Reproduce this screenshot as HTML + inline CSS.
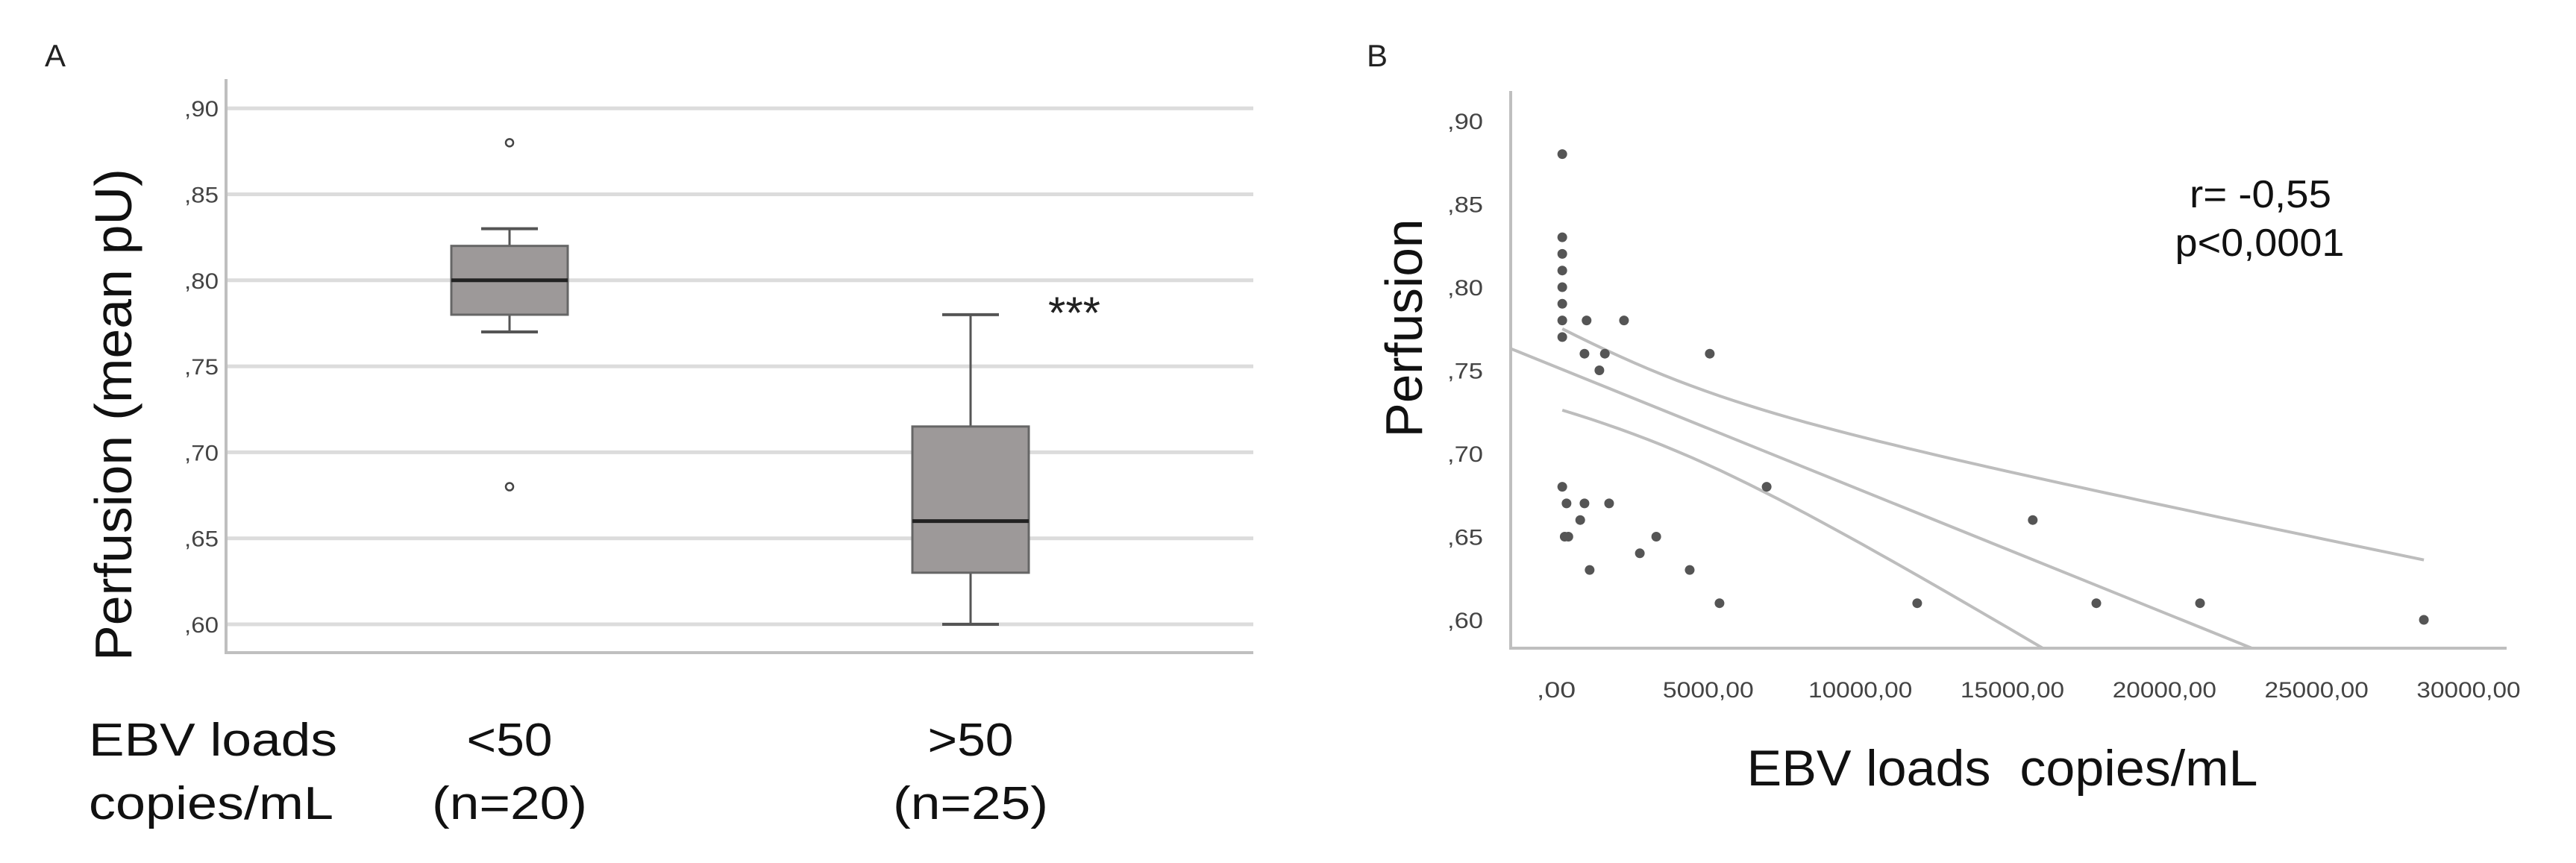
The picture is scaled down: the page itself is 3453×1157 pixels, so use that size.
<!DOCTYPE html>
<html><head><meta charset="utf-8"><style>
html,body{margin:0;padding:0;background:#fff;}
svg{display:block;font-family:"Liberation Sans",Arial,sans-serif;}
</style></head><body>
<svg id="fig" width="3453" height="1157" viewBox="0 0 3453 1157">
<defs><clipPath id="clipB"><rect x="2025" y="100" width="1380" height="769"/></clipPath></defs>
<text x="60" y="89" font-size="42" fill="#222">A</text>
<text x="1832" y="89" font-size="42" fill="#222">B</text>
<g id="panelA"></g>
<g id="panelB"></g>
</svg>
<script>
const NS="http://www.w3.org/2000/svg";
// Panel A data
const groupLabels=["<50",">50"];
const groupN=["(n=20)","(n=25)"];
const whiskerLow=[0.77,0.60];
const q1=[0.78,0.63];
const median=[0.80,0.66];
const q3=[0.82,0.715];
const whiskerHigh=[0.83,0.78];
const outliers=[[0.88,0.68],[]];
const yTicksA=[0.60,0.65,0.70,0.75,0.80,0.85,0.90];
const yTickLabelsA=[",60",",65",",70",",75",",80",",85",",90"];
// Panel B data
const ebv=[200,200,200,200,200,200,200,200,1000,2230,930,1600,1420,5050,200,340,930,1740,790,280,400,3290,2750,1100,4390,5370,6920,11870,15670,17760,21170,28530];
const perf=[0.88,0.83,0.82,0.81,0.80,0.79,0.78,0.77,0.78,0.78,0.76,0.76,0.75,0.76,0.68,0.67,0.67,0.67,0.66,0.65,0.65,0.65,0.64,0.63,0.63,0.61,0.68,0.61,0.66,0.61,0.61,0.60];
const xTicksB=[0,5000,10000,15000,20000,25000,30000];
const xTickLabelsB=[",00","5000,00","10000,00","15000,00","20000,00","25000,00","30000,00"];
const yTicksB=[0.60,0.65,0.70,0.75,0.80,0.85,0.90];
const yTickLabelsB=[",60",",65",",70",",75",",80",",85",",90"];
const fitCoef=[0.752,-7.39e-6];
const bandCoef=[0.00045,1.364e-11,3500];
const bandRange=[200,28530];

function el(tag,attrs,parent,text){const e=document.createElementNS(NS,tag);for(const k in attrs)e.setAttribute(k,attrs[k]);if(text!==undefined)e.textContent=text;parent.appendChild(e);return e;}

// ---- Panel A ----
const A=document.getElementById('panelA');
const yA=v=>837-(v-0.60)/0.05*115.3;
const xA=i=>[683,1301][i];
yTicksA.forEach((t,i)=>{
  const g=el('line',{x1:303,x2:1680,y1:yA(t),y2:yA(t),stroke:'#dcdcdc','stroke-width':5},A);
  
  const tx=el('text',{x:293,y:yA(t)+11,'font-size':30,'text-anchor':'end',fill:'#444',textLength:46,lengthAdjust:'spacingAndGlyphs'},A,yTickLabelsA[i]);
  
});
const axA=el('polyline',{points:'303,106 303,875 1680,875',fill:'none',stroke:'#bfbfbf','stroke-width':4},A);

groupLabels.forEach((g,i)=>{
  const cx=xA(i),hw=78,cw=38;
  const grp=el('g',{},A);
  
  el('line',{x1:cx,x2:cx,y1:yA(whiskerHigh[i]),y2:yA(q3[i]),stroke:'#555','stroke-width':3},grp);
  el('line',{x1:cx,x2:cx,y1:yA(q1[i]),y2:yA(whiskerLow[i]),stroke:'#555','stroke-width':3},grp);
  el('line',{x1:cx-cw,x2:cx+cw,y1:yA(whiskerHigh[i]),y2:yA(whiskerHigh[i]),stroke:'#555','stroke-width':4},grp);
  el('line',{x1:cx-cw,x2:cx+cw,y1:yA(whiskerLow[i]),y2:yA(whiskerLow[i]),stroke:'#555','stroke-width':4},grp);
  el('rect',{x:cx-hw,y:yA(q3[i]),width:2*hw,height:yA(q1[i])-yA(q3[i]),fill:'#9d9999',stroke:'#666','stroke-width':3},grp);
  el('line',{x1:cx-hw,x2:cx+hw,y1:yA(median[i]),y2:yA(median[i]),stroke:'#222','stroke-width':5},grp);
  outliers[i].forEach(o=>{const c=el('circle',{cx:cx,cy:yA(o),r:5,fill:'#fff',stroke:'#444','stroke-width':2.5},A);
    });
  const l1=el('text',{x:cx,y:1013,'font-size':62,'text-anchor':'middle',fill:'#111',textLength:115,lengthAdjust:'spacingAndGlyphs'},A,g);
  
  const l2=el('text',{x:cx,y:1098,'font-size':62,'text-anchor':'middle',fill:'#111',textLength:208,lengthAdjust:'spacingAndGlyphs'},A,groupN[i]);
  
});
const st=el('text',{x:1440,y:440,'font-size':60,'text-anchor':'middle',fill:'#222'},A,'***');

const yt=el('text',{transform:'translate(176,556) rotate(-90)','font-size':70,'text-anchor':'middle',fill:'#111',textLength:660,lengthAdjust:'spacingAndGlyphs'},A,'Perfusion (mean pU)');

const e1=el('text',{x:119,y:1013,'font-size':62,fill:'#111',textLength:333,lengthAdjust:'spacingAndGlyphs'},A,'EBV loads');

const e2=el('text',{x:119,y:1098,'font-size':62,fill:'#111',textLength:328,lengthAdjust:'spacingAndGlyphs'},A,'copies/mL');


// ---- Panel B ----
const B=document.getElementById('panelB');
const xB=v=>2086+v*(1223/30000);
const yB=v=>831-(v-0.60)/0.05*111.5;
const axB=el('polyline',{points:'2025,122 2025,869 3360,869',fill:'none',stroke:'#bfbfbf','stroke-width':4},B);

yTicksB.forEach((t,i)=>{const tx=el('text',{x:1988,y:yB(t)+11,'font-size':30,'text-anchor':'end',fill:'#444',textLength:48,lengthAdjust:'spacingAndGlyphs'},B,yTickLabelsB[i]);
  });
xTicksB.forEach((t,i)=>{const tx=el('text',{x:xB(t),y:935,'font-size':30,'text-anchor':'middle',fill:'#444',textLength:xTickLabelsB[i].length*17.4,lengthAdjust:'spacingAndGlyphs'},B,xTickLabelsB[i]);
  });
const lines=el('g',{'clip-path':'url(#clipB)'},B);

const fit=v=>fitCoef[0]+fitCoef[1]*v;
const h=v=>Math.sqrt(bandCoef[0]+bandCoef[1]*(v-bandCoef[2])**2);
const fl=el('line',{x1:xB(-2000),y1:yB(fit(-2000)),x2:xB(30000),y2:yB(fit(30000)),stroke:'#bdbdbd','stroke-width':4},lines);

[1,-1].forEach(s=>{let pts=[];for(let k=0;k<=60;k++){const v=bandRange[0]+(bandRange[1]-bandRange[0])*k/60;pts.push(xB(v).toFixed(1)+','+yB(fit(v)+s*h(v)).toFixed(1));}
  const p=el('polyline',{points:pts.join(' '),fill:'none',stroke:'#bdbdbd','stroke-width':4},lines);
  });
ebv.forEach((v,i)=>{const c=el('circle',{cx:xB(v),cy:yB(perf[i]),r:6.5,fill:'#555'},B);
  });
const r1=el('text',{x:3030,y:278,'font-size':52,'text-anchor':'middle',fill:'#111',textLength:190,lengthAdjust:'spacingAndGlyphs'},B,'r= -0,55');

const r2=el('text',{x:3029,y:343,'font-size':52,'text-anchor':'middle',fill:'#111',textLength:227,lengthAdjust:'spacingAndGlyphs'},B,'p<0,0001');

const ytb=el('text',{transform:'translate(1906,440) rotate(-90)','font-size':70,'text-anchor':'middle',fill:'#111',textLength:293,lengthAdjust:'spacingAndGlyphs'},B,'Perfusion');

const xtb=el('text',{x:2684,y:1053,'font-size':68,'text-anchor':'middle',fill:'#111',textLength:685,lengthAdjust:'spacingAndGlyphs'},B,'EBV loads\u00a0 copies/mL');

</script>
</body></html>
